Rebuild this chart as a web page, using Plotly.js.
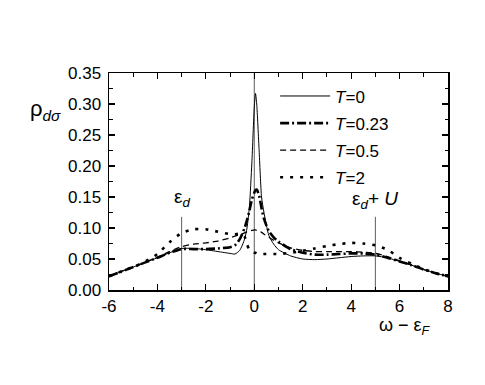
<!DOCTYPE html>
<html>
<head>
<meta charset="utf-8">
<script src="https://cdn.plot.ly/plotly-3.0.1.min.js"></script>
<style>
  body { margin: 0; background: #fff; }
  #chart { width: 485px; height: 385px; }
</style>
</head>
<body>
<div id="chart"></div>
<script>
// energy grid (omega - eps_F)
const omega = [-6,-5.5,-5,-4.5,-4,-3.5,-3,-2.5,-2,-1.5,-1,-0.8,-0.6,-0.4,-0.3,-0.2,-0.1,0,0.05,0.1,0.2,0.3,0.4,0.6,0.8,1,1.5,2,2.5,3,3.5,4,4.5,5,5.5,6,6.5,7,7.5,8];

// rho_dsigma for each temperature
const rhoT0 = [0.022,0.0295,0.037,0.0445,0.052,0.060,0.067,0.067,0.065,0.062,0.059,0.058,0.064,0.082,0.100,0.135,0.205,0.295,0.317,0.300,0.225,0.150,0.125,0.088,0.074,0.065,0.055,0.050,0.049,0.050,0.052,0.054,0.055,0.055,0.052,0.046,0.040,0.033,0.027,0.022];
const rhoT023 = [0.022,0.0295,0.037,0.0445,0.052,0.060,0.066,0.066,0.066,0.067,0.069,0.072,0.082,0.100,0.113,0.128,0.146,0.157,0.161,0.162,0.152,0.132,0.115,0.095,0.085,0.078,0.066,0.060,0.057,0.057,0.058,0.059,0.059,0.057,0.052,0.046,0.040,0.033,0.027,0.022];
const rhoT05 = [0.022,0.030,0.037,0.045,0.053,0.062,0.070,0.074,0.076,0.079,0.084,0.087,0.089,0.092,0.094,0.095,0.096,0.097,0.097,0.096,0.095,0.093,0.090,0.085,0.080,0.076,0.068,0.064,0.062,0.062,0.062,0.062,0.061,0.059,0.054,0.047,0.040,0.033,0.027,0.022];
const rhoT2 = [0.022,0.030,0.037,0.046,0.058,0.077,0.092,0.098,0.098,0.094,0.090,0.090,0.091,0.086,0.074,0.064,0.061,0.060,0.060,0.059,0.059,0.058,0.058,0.058,0.058,0.058,0.060,0.063,0.067,0.071,0.074,0.076,0.075,0.072,0.065,0.052,0.042,0.034,0.027,0.022];

const seriesNames = ['<i>T</i>=0','<i>T</i>=0.23','<i>T</i>=0.5','<i>T</i>=2'];

// tick labels (plain hyphen minus, as in the figure)
const xTickVals = [-6,-4,-2,0,2,4,6,8];
const xTickText = ['-6','-4','-2','0','2','4','6','8'];

// reference levels: eps_d, eps_F, eps_d + U
const epsD = -3, U = 8;
const refX = [epsD, 0, epsD + U];
const refTop = [0.118, 0.35, 0.118];

const font = 'Liberation Sans, Arial, sans-serif';

const styles = [
  {width:1, dash:'solid'},
  {width:2.6, dash:'9px,3px,2px,3px'},
  {width:1.3, dash:'6px,4px'},
  {width:2.6, dash:'3px,7px'}
];
const ys = [rhoT0, rhoT023, rhoT05, rhoT2];

const traces = [];
refX.forEach((x,i) => {
  traces.push({x:[x,x], y:[0,refTop[i]], mode:'lines', line:{color:'#333',width:0.8}, showlegend:false, hoverinfo:'skip'});
});
ys.forEach((y,i) => {
  traces.push({x:omega, y:y, mode:'lines', name:seriesNames[i], legendgroup:'g'+i,
    line:{color:'#000', width:styles[i].width, dash:styles[i].dash, shape:'spline', smoothing:0.6}});
});

const axisCommon = {
  showgrid:false, zeroline:false, showline:true, linecolor:'#000', linewidth:1.5,
  mirror:'allticks', ticks:'inside', ticklen:6, tickwidth:1.2, tickcolor:'#000',
  tickfont:{family:font, size:17, color:'#000'}
};

const layout = {
  width:485, height:385,
  margin:{l:109, r:37, t:73, b:95},
  paper_bgcolor:'#fff', plot_bgcolor:'#fff',
  font:{family:font, color:'#000'},
  xaxis:{...axisCommon, range:[-6,8], tickmode:'array', tickvals:xTickVals, ticktext:xTickText,
    minor:{dtick:1, tick0:-6, ticks:'inside', ticklen:3.5, tickwidth:1, tickcolor:'#000'}},
  yaxis:{...axisCommon, range:[0,0.35], dtick:0.05, tickformat:'.2f', ticklabelstandoff:3,
    minor:{dtick:0.025, ticks:'inside', ticklen:3.5, tickwidth:1, tickcolor:'#000'}},
  showlegend:true,
  legend:{x:0.49, y:0.975, xanchor:'left', yanchor:'top', bgcolor:'rgba(0,0,0,0)',
    font:{family:font, size:17, color:'#000'}, itemwidth:50, tracegroupgap:2},
  annotations:[
    {xref:'paper', yref:'paper', x:-0.24, y:0.83, xanchor:'left', yanchor:'middle', showarrow:false,
      text:'ρ<sub><i>dσ</i></sub>', font:{family:font, size:22}},
    {xref:'paper', yref:'paper', x:0.79, y:-0.17, xanchor:'left', yanchor:'middle', showarrow:false,
      text:'ω − ε<sub><i>F</i></sub>', font:{family:font, size:18}},
    {xref:'x', yref:'y', x:epsD, y:0.148, xanchor:'center', yanchor:'middle', showarrow:false,
      text:'ε<sub><i>d</i></sub>', font:{family:font, size:19}},
    {xref:'x', yref:'y', x:epsD + U, y:0.145, xanchor:'center', yanchor:'middle', showarrow:false,
      text:'ε<sub><i>d</i></sub>+ <i>U</i>', font:{family:font, size:19}}
  ]
};

Plotly.newPlot('chart', traces, layout, {staticPlot:true});
</script>
</body>
</html>
